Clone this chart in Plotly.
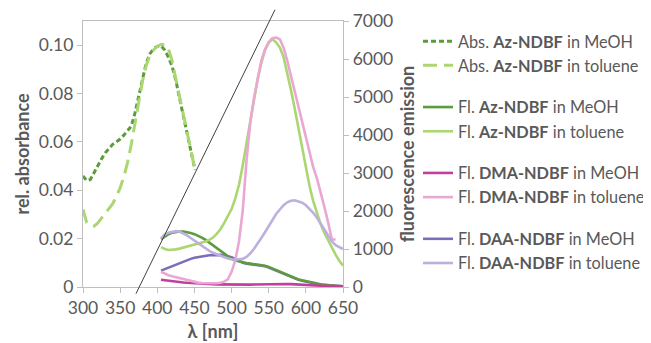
import plotly.graph_objects as go

# ---------------- data ----------------
abs_wl = [300, 305, 310, 315, 320, 325, 330, 335, 340, 345, 350, 355, 360, 365, 370, 375,
          380, 385, 390, 395, 400, 405, 410, 415, 420, 425, 430, 435, 440, 445, 450, 451]
abs_az_meoh = [0.0459, 0.0440, 0.0445, 0.0475, 0.0500, 0.0530, 0.0555, 0.0575, 0.0590, 0.0600,
               0.0612, 0.0628, 0.0645, 0.0665, 0.0720, 0.0790, 0.0860, 0.0925, 0.0964, 0.0985,
               0.0995, 0.0998, 0.0980, 0.0950, 0.0912, 0.0855, 0.0780, 0.0708, 0.0625, 0.0555,
               0.0495, 0.0485]
abs_az_tol = [0.0321, 0.0266, 0.0255, 0.0252, 0.0265, 0.0285, 0.0305, 0.0325, 0.0345, 0.0375,
              0.0410, 0.0455, 0.0515, 0.0590, 0.0680, 0.0775, 0.0850, 0.0915, 0.0957, 0.0980,
              0.0995, 0.1003, 0.1003, 0.0985, 0.0935, 0.0860, 0.0790, 0.0715, 0.0640, 0.0570,
              0.0495, 0.0485]

fl_wl = [405, 410, 415, 420, 425, 430, 435, 440, 445, 450, 455, 460, 465, 470, 475, 480, 485,
         490, 495, 500, 505, 510, 515, 520, 525, 530, 535, 540, 545, 550, 555, 560, 565, 570,
         575, 580, 585, 590, 595, 600, 605, 610, 615, 620, 625, 630, 635, 640, 645, 650]
fl_az_meoh = [1260, 1330, 1390, 1430, 1455, 1462, 1460, 1445, 1420, 1390, 1355, 1300, 1240, 1170,
              1100, 1030, 950, 880, 800, 740, 700, 670, 645, 630, 615, 600, 590, 580, 560, 530,
              490, 450, 410, 360, 310, 270, 230, 200, 175, 150, 130, 110, 90, 70, 55, 45, 38, 30,
              25, 20]
fl_az_tol = [1050, 1000, 975, 975, 990, 1010, 1035, 1060, 1080, 1110, 1140, 1170, 1200, 1240,
             1300, 1400, 1520, 1680, 1870, 2050, 2330, 2690, 3200, 3770, 4370, 4950, 5470, 5890,
             6230, 6430, 6520, 6440, 6300, 6050, 5650, 5180, 4700, 4170, 3620, 3100, 2650, 2250,
             1950, 1650, 1420, 1220, 1030, 850, 690, 560]
fl_dma_meoh = [190, 175, 160, 150, 140, 128, 118, 110, 102, 95, 90, 85, 80, 76, 72, 70, 67, 64,
               62, 60, 60, 60, 60, 60, 62, 65, 68, 72, 76, 80, 84, 86, 86, 84, 80, 75, 68, 60,
               55, 50, 45, 40, 37, 34, 31, 28, 25, 23, 21, 20]
fl_dma_tol_wl = [405, 410, 415, 420, 425, 430, 435, 440, 445, 450, 455, 460, 465, 470, 475, 480,
                 485, 490, 495, 500, 505, 510, 515, 520, 525, 530, 535, 540, 545, 550, 555, 560,
                 565, 570, 575, 580, 585, 590, 595, 600, 605, 610, 615, 620, 625, 630, 635, 640]
fl_dma_tol = [400, 350, 310, 280, 255, 235, 212, 180, 150, 130, 115, 105, 100, 95, 95, 100, 110,
              140, 200, 400, 700, 1200, 2000, 3300, 4300, 4950, 5450, 5950, 6250, 6450, 6550,
              6565, 6520, 6300, 5950, 5550, 5100, 4670, 4280, 3900, 3500, 3150, 2850, 2500, 2100,
              1700, 1250, 1250]
fl_daa_meoh = [430, 470, 520, 560, 600, 640, 675, 710, 740, 770, 790, 810, 825, 835, 840, 845,
               845, 830, 810, 780, 740, 690, 640, 615, 600, 585, 575, 565, 545, 515, 475, 435,
               395, 345, 300, 260, 220, 190, 165, 140, 120, 100, 80, 62, 50, 40, 33, 27, 22, 18]
fl_daa_tol = [1280, 1380, 1430, 1460, 1470, 1460, 1420, 1360, 1290, 1220, 1150, 1080, 1010, 950,
              900, 860, 820, 780, 750, 730, 720, 730, 740, 790, 880, 1000, 1130, 1290, 1440,
              1600, 1780, 1920, 2040, 2150, 2230, 2270, 2280, 2260, 2220, 2150, 2060, 1950,
              1820, 1670, 1500, 1340, 1200, 1100, 1040, 1000]

x_ticks = [300, 350, 400, 450, 500, 550, 600, 650]
abs_ticks = [0, 0.02, 0.04, 0.06, 0.08, 0.10]
abs_tick_labels = ["0", "0.02", "0.04", "0.06", "0.08", "0.10"]
fl_ticks = [0, 1000, 2000, 3000, 4000, 5000, 6000, 7000]

names = ["Abs. <b>Az-NDBF</b> in MeOH", "Abs. <b>Az-NDBF</b> in toluene",
         "Fl. <b>Az-NDBF</b> in MeOH", "Fl. <b>Az-NDBF</b> in toluene",
         "Fl. <b>DMA-NDBF</b> in MeOH", "Fl. <b>DMA-NDBF</b> in toluene",
         "Fl. <b>DAA-NDBF</b> in MeOH", "Fl. <b>DAA-NDBF</b> in toluene"]

DKGREEN = "#5c9c3c"
LTGREEN = "#abd672"
MAGENTA = "#c23f9e"
PINK = "#eaa7d3"
PURPLE = "#7d6cbb"
LAVENDER = "#bdb0df"

fig = go.Figure()

def add(x, y, name, color, rank, group, yaxis="y", dash="solid", width=2.6):
    fig.add_trace(go.Scatter(x=x, y=y, name=name, mode="lines", yaxis=yaxis,
                             line=dict(color=color, width=width, dash=dash),
                             legendrank=rank, legendgroup=group))

add(abs_wl, abs_az_meoh, names[0], DKGREEN, 1, "g1", dash="5px,3px", width=3)
add(abs_wl, abs_az_tol, names[1], LTGREEN, 2, "g1", dash="14px,7px", width=3)
add(fl_wl, fl_daa_meoh, names[6], PURPLE, 7, "g4", yaxis="y2")
add(fl_wl, fl_az_meoh, names[2], DKGREEN, 3, "g2", yaxis="y2")
add(fl_wl, fl_az_tol, names[3], LTGREEN, 4, "g2", yaxis="y2")
add(fl_wl, fl_dma_meoh, names[4], MAGENTA, 5, "g3", yaxis="y2")
add(fl_dma_tol_wl, fl_dma_tol, names[5], PINK, 6, "g3", yaxis="y2")
add(fl_wl, fl_daa_tol, names[7], LAVENDER, 8, "g4", yaxis="y2")

TXT = "#595959"
AX = "#bfbfbf"
FONT = "Lato"
TICK = 17.5

# the page body adds an 8 px offset, so the figure is 8 px smaller on each axis
W, H = 643, 335

fig.add_shape(type="line", xref="paper", yref="paper", x0=0.2038, y0=-0.025,
              x1=0.7385, y1=1.0425, line=dict(color="#404040", width=1))

fig.update_layout(
    width=W, height=H,
    margin=dict(l=75, r=308, t=13, b=56, autoexpand=False),
    paper_bgcolor="white", plot_bgcolor="white",
    font=dict(family=FONT, size=TICK, color=TXT),
    showlegend=True,
    legend=dict(xref="container", yref="container", x=0.6376, xanchor="left",
                y=0.952, yanchor="top", maxheight=330,
                font=dict(family=FONT, size=16.3, color=TXT),
                tracegroupgap=17.5, bgcolor="rgba(0,0,0,0)", itemwidth=30),
    xaxis=dict(range=[300, 650], tickvals=x_ticks, showgrid=False, zeroline=False,
               showline=True, linecolor=AX, linewidth=1.3, mirror=True, automargin=False,
               ticks="outside", ticklen=5, tickcolor=AX,
               tickfont=dict(family=FONT, size=TICK, color=TXT),
               title=dict(text="<b>λ [nm]</b>", font=dict(family=FONT, size=18, color=TXT),
                          standoff=8)),
    yaxis=dict(range=[0, 0.11], tickvals=abs_ticks, ticktext=abs_tick_labels, automargin=False,
               showgrid=False, zeroline=False, showline=True, linecolor=AX, linewidth=1.3,
               ticks="outside", ticklen=5, tickcolor=AX,
               tickfont=dict(family=FONT, size=TICK, color=TXT),
               title=dict(text="<b>rel. absorbance</b>", font=dict(family=FONT, size=18, color=TXT),
                          standoff=4)),
    yaxis2=dict(range=[0, 7000], tickvals=fl_ticks, tickformat="d", overlaying="y", side="right",
                showgrid=False, zeroline=False, showline=True, linecolor=AX, linewidth=1.3,
                ticks="outside", ticklen=5, tickcolor=AX, automargin=False,
                tickfont=dict(family=FONT, size=TICK, color=TXT),
                title=dict(text="<b>fluorescence emission</b>",
                           font=dict(family=FONT, size=18, color=TXT), standoff=18)),
)

fig.write_html("out.html")
